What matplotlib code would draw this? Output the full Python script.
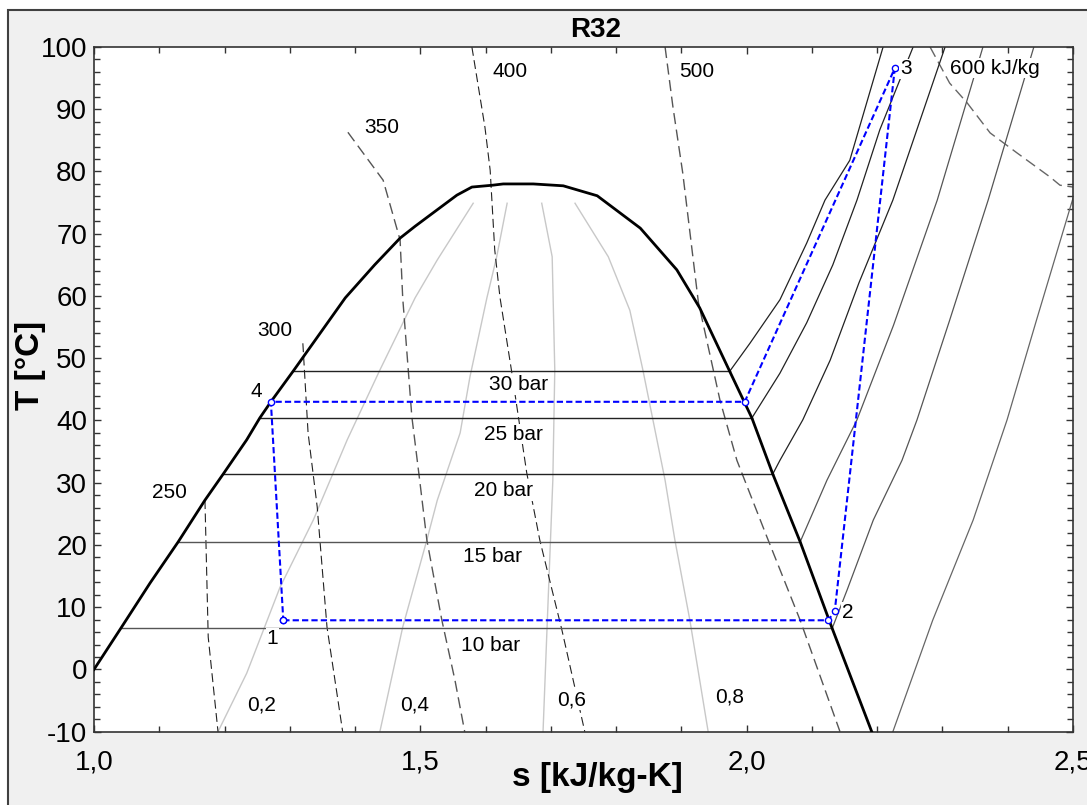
import matplotlib
matplotlib.use("Agg")
import matplotlib.pyplot as plt
from matplotlib.patches import Rectangle
from matplotlib.ticker import MultipleLocator, FuncFormatter

plt.rcParams['font.family'] = ['Liberation Sans', 'DejaVu Sans']
plt.rcParams['axes.unicode_minus'] = False

# Sättigungslinie R32 (s in kJ/kg-K, T in °C)
dome_s = [1.000, 1.041, 1.086, 1.129, 1.170, 1.198, 1.234, 1.254, 1.271, 1.305, 1.385, 1.430,
          1.469, 1.492, 1.515, 1.556, 1.579, 1.611, 1.627, 1.673, 1.719, 1.771, 1.837, 1.893,
          1.928, 1.974, 2.008, 2.040, 2.082, 2.131, 2.192]
dome_T = [0.0, 6.6, 13.9, 20.5, 27.2, 31.4, 36.9, 40.4, 43.0, 47.9, 59.7, 65.0,
          69.3, 71.2, 73.0, 76.2, 77.5, 77.8, 78.0, 78.0, 77.7, 76.1, 70.9, 64.2,
          58.1, 47.9, 40.4, 31.4, 20.5, 6.6, -10.1]

# Isobaren im Nassdampfgebiet
bar_names = ["10 bar", "15 bar", "20 bar", "25 bar", "30 bar"]
bar_T = [6.6, 20.5, 31.4, 40.4, 47.9]
bar_s_liq = [1.041, 1.129, 1.198, 1.254, 1.305]
bar_s_vap = [2.131, 2.082, 2.040, 2.008, 1.974]
bar_colors = ["#555555", "#555555", "#222222", "#222222", "#222222"]

# Isobaren im überhitzten Gebiet
p30_s = [1.974, 2.005, 2.051, 2.092, 2.120, 2.158, 2.209]
p30_T = [47.9, 52.4, 59.4, 68.5, 75.4, 81.8, 100.0]
p25_s = [2.008, 2.051, 2.092, 2.132, 2.169, 2.204, 2.255]
p25_T = [40.4, 47.6, 55.7, 65.0, 75.4, 86.7, 100.0]
p20_s = [2.040, 2.051, 2.086, 2.128, 2.172, 2.224, 2.304]
p20_T = [31.4, 33.6, 40.1, 49.7, 62.1, 75.4, 100.0]
p15_s = [2.082, 2.123, 2.169, 2.225, 2.292, 2.362]
p15_T = [20.5, 30.4, 40.1, 55.3, 75.4, 100.0]
p10_s = [2.131, 2.154, 2.194, 2.238, 2.261, 2.311, 2.370, 2.440]
p10_T = [6.6, 12.8, 24.0, 33.6, 40.1, 56.1, 75.4, 100.0]
plow_s = [2.224, 2.285, 2.347, 2.399, 2.444, 2.500]
plow_T = [-10.0, 7.9, 24.0, 40.1, 56.1, 75.7]

# Isenthalpen (kJ/kg)
h250_s = [1.170, 1.175, 1.190]
h250_T = [27.2, 5.2, -10.0]
h300_s = [1.320, 1.328, 1.342, 1.357, 1.381]
h300_T = [52.4, 38.0, 26.1, 6.8, -10.0]
h350_s = [1.389, 1.443, 1.469, 1.473, 1.487, 1.499, 1.510, 1.533, 1.553, 1.568]
h350_T = [86.3, 78.6, 69.0, 59.7, 40.6, 30.4, 20.8, 7.9, -1.7, -10.0]
h400_s = [1.579, 1.588, 1.599, 1.607, 1.614, 1.622, 1.640, 1.663, 1.683, 1.717, 1.752]
h400_T = [100.0, 94.2, 87.1, 80.2, 67.4, 59.8, 47.8, 31.6, 20.8, 6.3, -10.0]
h500_s = [1.875, 1.887, 1.902, 1.926, 1.959, 1.985, 2.031, 2.082, 2.143]
h500_T = [100.0, 90.4, 79.8, 59.0, 43.3, 33.6, 21.3, 7.9, -10.0]
h600_s = [2.281, 2.311, 2.338, 2.373, 2.414, 2.465, 2.480, 2.500]
h600_T = [100.0, 94.2, 91.0, 86.2, 83.0, 79.1, 77.8, 77.5]

# Linien konstanten Dampfgehalts
x02_s = [1.581, 1.526, 1.492, 1.438, 1.388, 1.336, 1.285, 1.234, 1.190]
x02_T = [74.9, 65.8, 59.7, 48.1, 36.9, 24.0, 13.2, -0.6, -10.0]
x04_s = [1.633, 1.617, 1.602, 1.576, 1.561, 1.526, 1.510, 1.473, 1.438]
x04_T = [74.9, 66.3, 59.7, 47.0, 38.0, 27.2, 20.8, 6.8, -10.0]
x06_s = [1.686, 1.702, 1.706, 1.703, 1.694, 1.688]
x06_T = [74.9, 66.3, 48.1, 30.4, 6.3, -10.0]
x08_s = [1.737, 1.788, 1.821, 1.841, 1.875, 1.890, 1.913, 1.941]
x08_T = [74.9, 66.3, 57.7, 48.1, 30.4, 20.8, 7.9, -10.0]

# Kreisprozess 1-2-3-4
cyc_s = [1.290, 2.125, 2.135, 2.227, 1.997, 1.271, 1.290]
cyc_T = [7.9, 7.9, 9.4, 96.6, 43.0, 43.0, 7.9]
state_names = ["1", "2", "3", "4"]
state_lbl_s = [1.273, 2.155, 2.244, 1.248]
state_lbl_T = [5.0, 9.2, 96.5, 44.6]

# Beschriftungen
bar_lbl_s = [1.607, 1.611, 1.627, 1.643, 1.650]
bar_lbl_T = [3.9, 18.1, 28.7, 37.8, 45.7]
h_names = ["250", "300", "350", "400", "500", "600 kJ/kg"]
h_lbl_s = [1.116, 1.277, 1.441, 1.637, 1.924, 2.380]
h_lbl_T = [28.5, 54.5, 87.1, 96.0, 96.0, 96.6]
x_names = ["0,2", "0,4", "0,6", "0,8"]
x_lbl_s = [1.257, 1.492, 1.732, 1.974]
x_lbl_T = [-5.7, -5.7, -4.9, -4.4]

W, H = 1087, 805
fig = plt.figure(figsize=(W / 100, H / 100), dpi=100, facecolor="white")
fig.add_artist(Rectangle((8 / W, -0.05), 1.1, 1 - 10 / H + 0.05, transform=fig.transFigure,
                         facecolor="#f0f0f0", edgecolor="#404040", lw=1.5, zorder=-5))
ax = fig.add_axes([94 / W, 1 - 731.7 / H, (1073 - 94) / W, (731.7 - 47) / H])
ax.set_xlim(1.0, 2.5)
ax.set_ylim(-10, 100)

dash = (0, (8, 4))
ax.plot(x02_s, x02_T, color="#c8c8c8", lw=1.0)
ax.plot(x04_s, x04_T, color="#c8c8c8", lw=1.0)
ax.plot(x06_s, x06_T, color="#c8c8c8", lw=1.0)
ax.plot(x08_s, x08_T, color="#c8c8c8", lw=1.0)

ax.plot(h250_s, h250_T, color="#222222", lw=0.8, ls=dash)
ax.plot(h300_s, h300_T, color="#222222", lw=0.8, ls=dash)
ax.plot(h350_s, h350_T, color="#555555", lw=1.0, ls=dash)
ax.plot(h400_s, h400_T, color="#222222", lw=0.8, ls=dash)
ax.plot(h500_s, h500_T, color="#555555", lw=1.0, ls=dash)
ax.plot(h600_s, h600_T, color="#666666", lw=1.0, ls=dash)

for T, s0, s1, c in zip(bar_T, bar_s_liq, bar_s_vap, bar_colors):
    ax.plot([s0, s1], [T, T], color=c, lw=1.0)
ax.plot(p30_s, p30_T, color="#222222", lw=0.9)
ax.plot(p25_s, p25_T, color="#222222", lw=0.9)
ax.plot(p20_s, p20_T, color="#222222", lw=0.9)
ax.plot(p15_s, p15_T, color="#555555", lw=0.9)
ax.plot(p10_s, p10_T, color="#555555", lw=0.9)
ax.plot(plow_s, plow_T, color="#666666", lw=0.9)

ax.plot(dome_s, dome_T, color="black", lw=2.0, zorder=3)

ax.plot(cyc_s, cyc_T, color="#0000ff", lw=1.5, ls=(0, (3, 1.5)), zorder=4,
        marker="o", ms=4.5, mfc="white", mec="#0000ff", mew=1.0)

box = dict(facecolor="white", edgecolor="none", pad=0.5)
for name, s, T in zip(bar_names, bar_lbl_s, bar_lbl_T):
    ax.text(s, T, name, fontsize=15, ha="center", va="center", bbox=box, zorder=5)
for name, s, T in zip(h_names, h_lbl_s, h_lbl_T):
    ax.text(s, T, name, fontsize=15, ha="center", va="center", bbox=box, zorder=5)
for name, s, T in zip(x_names, x_lbl_s, x_lbl_T):
    ax.text(s, T, name, fontsize=15, ha="center", va="center", bbox=box, zorder=5)
for name, s, T in zip(state_names, state_lbl_s, state_lbl_T):
    ax.text(s, T, name, fontsize=15, ha="center", va="center", bbox=box, zorder=5)

ax.xaxis.set_major_locator(MultipleLocator(0.5))
ax.xaxis.set_minor_locator(MultipleLocator(0.1))
ax.yaxis.set_major_locator(MultipleLocator(10))
ax.yaxis.set_minor_locator(MultipleLocator(2))
ax.xaxis.set_major_formatter(FuncFormatter(lambda v, p: f"{v:.1f}".replace(".", ",")))
ax.tick_params(which="both", direction="in", top=True, right=True, color="#333333")
ax.tick_params(which="major", length=5, width=1)
ax.tick_params(which="minor", length=4, width=1)
ax.tick_params(axis="x", labelsize=20, pad=13)
ax.tick_params(axis="y", labelsize=20, pad=5)
for sp in ax.spines.values():
    sp.set_color("#333333")
    sp.set_linewidth(1.2)

fig.text(596 / W, 1 - 30 / H, "R32", fontsize=20, fontweight="bold", ha="center", va="center")
fig.text(597 / W, 1 - 777 / H, "s [kJ/kg-K]", fontsize=24, fontweight="bold", ha="center", va="center")
fig.text(30 / W, 1 - 365 / H, "T [°C]", fontsize=24, fontweight="bold", ha="center", va="center",
         rotation=90)

fig.savefig("out.png", dpi=100, facecolor=fig.get_facecolor())
